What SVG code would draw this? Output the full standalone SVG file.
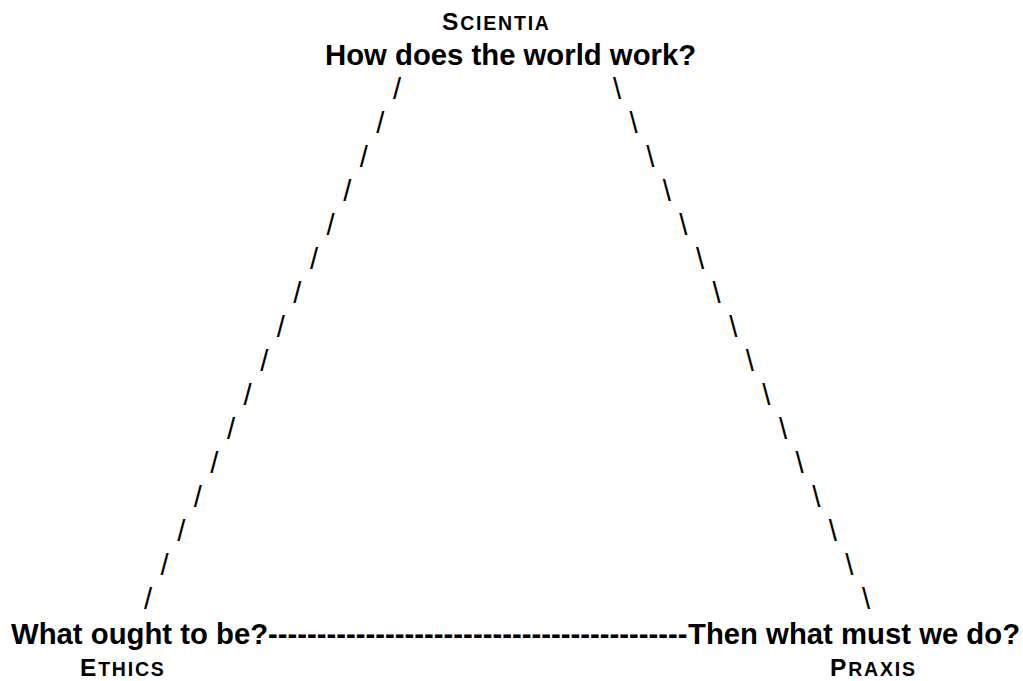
<svg xmlns="http://www.w3.org/2000/svg" width="1023" height="681" viewBox="0 0 1023 681">
<style>
text { font-family: "Liberation Sans", Arial, Helvetica, sans-serif; fill: #000; }
.q { font-size: 29.3px; font-weight: bold; }
.t { font-size: 24.5px; font-weight: bold; letter-spacing: 1.8px; }
.t tspan.sc { font-size: 19.5px; }
.s { font-size: 29.3px; font-weight: normal; text-anchor: middle; }
</style>
<rect width="1023" height="681" fill="#fff"/>
<g id="scientia">
  <text class="t" x="442" y="30">S<tspan class="sc">CIENTIA</tspan></text>
  <text class="q" x="325" y="65">How does the world work?</text>
</g>
<g id="ethics">
  <text class="q" x="11" y="644">What ought to be?</text>
  <text class="t" x="80" y="676">E<tspan class="sc">THICS</tspan></text>
</g>
<g id="praxis">
  <text class="q" x="688" y="644">Then what must we do?</text>
  <text class="t" x="830" y="676">P<tspan class="sc">RAXIS</tspan></text>
</g>
<g id="connectors">
  <g id="scientia-ethics">
    <text class="s" x="397.0" y="98.5">/</text>
    <text class="s" x="380.4" y="132.5">/</text>
    <text class="s" x="363.8" y="166.5">/</text>
    <text class="s" x="347.2" y="200.5">/</text>
    <text class="s" x="330.6" y="234.5">/</text>
    <text class="s" x="314.0" y="268.5">/</text>
    <text class="s" x="297.4" y="302.5">/</text>
    <text class="s" x="280.8" y="336.5">/</text>
    <text class="s" x="264.2" y="370.5">/</text>
    <text class="s" x="247.6" y="404.5">/</text>
    <text class="s" x="231.0" y="438.5">/</text>
    <text class="s" x="214.4" y="472.5">/</text>
    <text class="s" x="197.8" y="506.5">/</text>
    <text class="s" x="181.2" y="540.5">/</text>
    <text class="s" x="164.6" y="574.5">/</text>
    <text class="s" x="148.0" y="608.5">/</text>
  </g>
  <g id="scientia-praxis">
    <text class="s" x="617.0" y="98.5">\</text>
    <text class="s" x="633.6" y="132.5">\</text>
    <text class="s" x="650.2" y="166.5">\</text>
    <text class="s" x="666.8" y="200.5">\</text>
    <text class="s" x="683.4" y="234.5">\</text>
    <text class="s" x="700.0" y="268.5">\</text>
    <text class="s" x="716.6" y="302.5">\</text>
    <text class="s" x="733.2" y="336.5">\</text>
    <text class="s" x="749.8" y="370.5">\</text>
    <text class="s" x="766.4" y="404.5">\</text>
    <text class="s" x="783.0" y="438.5">\</text>
    <text class="s" x="799.6" y="472.5">\</text>
    <text class="s" x="816.2" y="506.5">\</text>
    <text class="s" x="832.8" y="540.5">\</text>
    <text class="s" x="849.4" y="574.5">\</text>
    <text class="s" x="866.0" y="608.5">\</text>
  </g>
  <g id="ethics-praxis">
    <text class="q" x="268" y="644">-------------------------------------------</text>
  </g>
</g>
</svg>
